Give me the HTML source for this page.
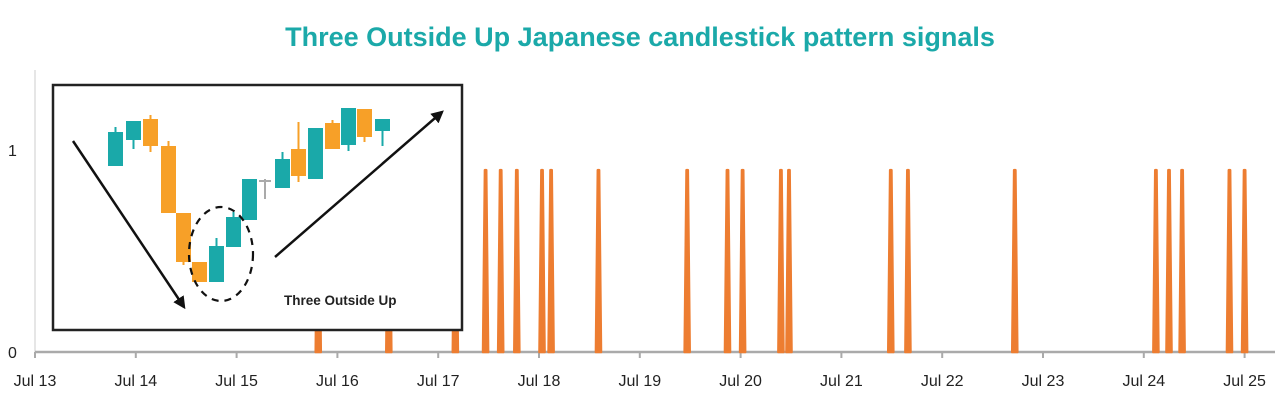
<!DOCTYPE html>
<html><head><meta charset="utf-8"><style>
html,body{margin:0;padding:0;background:#fff;}
svg{display:block;font-family:"Liberation Sans",sans-serif;}
</style></head><body>
<svg id="chart" width="1280" height="414" viewBox="0 0 1280 414">
<text x="640" y="46" text-anchor="middle" font-size="27" font-weight="bold" fill="#1BA9A9">Three Outside Up Japanese candlestick pattern signals</text>
<g id="axes"></g>
<g id="spikes"></g>
<g>
<rect x="53" y="85" width="409" height="245" fill="#fff" stroke="#222" stroke-width="2.5"/>
<g id="candles"></g>
<defs><marker id="ah" markerWidth="5" markerHeight="5" refX="4" refY="2.5" orient="auto"><path d="M0,0 L5,2.5 L0,5 Z" fill="#111"/></marker></defs>
<line x1="73" y1="141" x2="184" y2="307" stroke="#111" stroke-width="2.5" marker-end="url(#ah)"/>
<line x1="275" y1="257" x2="442" y2="112" stroke="#111" stroke-width="2.5" marker-end="url(#ah)"/>
<ellipse cx="221" cy="254" rx="32" ry="47" fill="none" stroke="#111" stroke-width="2.2" stroke-dasharray="7,6"/>
<text x="284" y="305" font-size="13.5" font-weight="bold" fill="#222">Three Outside Up</text>
</g>
</svg>
<script>
const tickLabels=["Jul 13","Jul 14","Jul 15","Jul 16","Jul 17","Jul 18","Jul 19","Jul 20","Jul 21","Jul 22","Jul 23","Jul 24","Jul 25"];
const signalDates=[15.81,16.51,17.17,17.47,17.62,17.78,18.03,18.12,18.59,19.47,19.87,20.02,20.40,20.48,21.49,21.66,22.72,24.12,24.25,24.38,24.85,25.00];
const signalValues=[0.9,0.9,0.9,0.9,0.9,0.9,0.9,0.9,0.9,0.9,0.9,0.9,0.9,0.9,0.9,0.9,0.9,0.9,0.9,0.9,0.9,0.9];
const yTicks=[0,1];
const NS="http://www.w3.org/2000/svg";
const X=t=>35+(t-13)*100.8;
const Y=v=>352-v*202;
function mk(tag,attrs,parent){const e=document.createElementNS(NS,tag);for(const k in attrs)e.setAttribute(k,attrs[k]);parent.appendChild(e);return e;}
const axes=document.getElementById('axes');
let a=mk('line',{x1:35,y1:70,x2:35,y2:352,stroke:'#ccc','stroke-width':1},axes);


yTicks.forEach(v=>{const t=mk('text',{x:8,y:Y(v)+6,'font-size':16,fill:'#222'},axes);t.textContent=v;

});
const spikes=document.getElementById('spikes');
signalDates.forEach((d,i)=>{const x=X(d),y=Y(signalValues[i]);
const p=mk('path',{d:`M${x-2.5},${Y(0)} L${x-0.6},${y} L${x+0.6},${y} L${x+2.5},${Y(0)} Z`,fill:'#ED7D31',stroke:'#ED7D31','stroke-width':2.6,'stroke-linejoin':'round'},spikes);

});
a=mk('line',{x1:35,y1:352,x2:1275,y2:352,stroke:'#aaa','stroke-width':2.5},axes);


tickLabels.forEach((l,i)=>{const x=X(13+i);
const tk=mk('line',{x1:x,y1:352,x2:x,y2:358,stroke:'#aaa','stroke-width':2},axes);


const t=mk('text',{x:x,y:386,'text-anchor':'middle','font-size':16,fill:'#222'},axes);t.textContent=l;

});
const T='#1AA9A9',O='#F7A028';
const candleData=[[108,132,166,127,166,T],[126,121,140,121,149,T],[143,119,146,115,152,O],[161,146,213,141,213,O],[176,213,262,213,265,O],[192,262,282,262,282,O],[209,246,282,238,282,T],[226,217,247,212,247,T],[242,179,220,179,220,T],[275,159,188,152,188,T],[291,149,176,122,182,O],[308,128,179,128,179,T],[325,123,149,120,149,O],[341,108,145,108,151,T],[357,109,137,109,142,O],[375,119,131,119,146,T]];
const cg=document.getElementById('candles');
candleData.forEach(c=>{const cx=c[0]+7.5;
const w=mk('line',{x1:cx,y1:c[3],x2:cx,y2:c[4],stroke:c[5],'stroke-width':2},cg);


const r=mk('rect',{x:c[0],y:c[1],width:15,height:c[2]-c[1],fill:c[5]},cg);

});
let dj=mk('path',{d:'M265,179 L265,199 M259,181 L271,181',stroke:'#aaa','stroke-width':2,fill:'none'},cg);


</script>
</body></html>
